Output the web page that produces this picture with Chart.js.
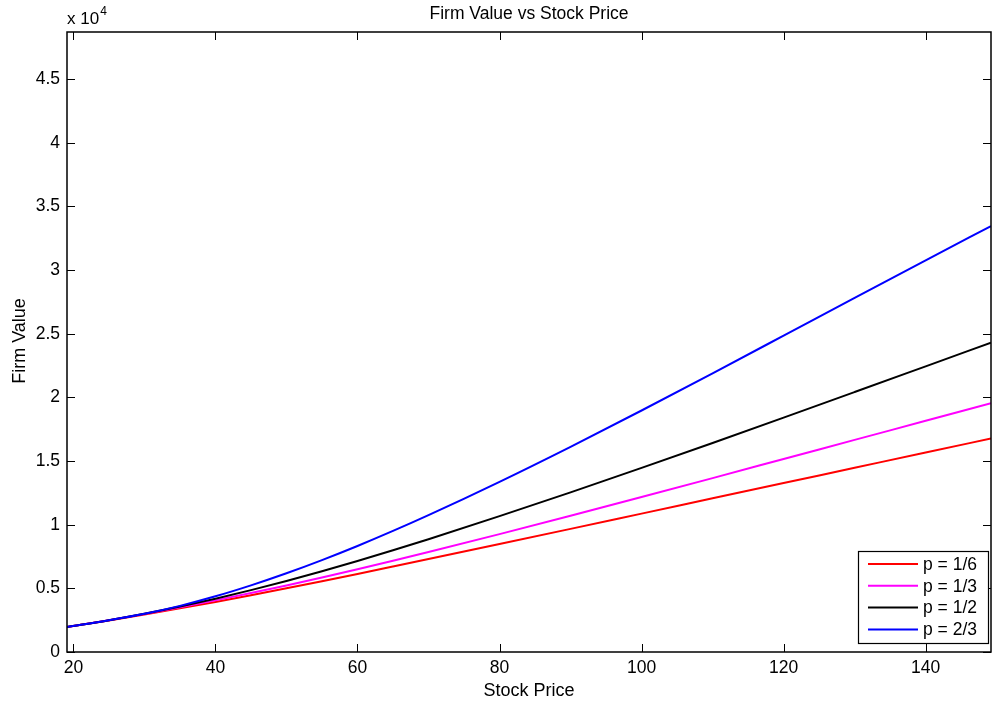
<!DOCTYPE html>
<html>
<head>
<meta charset="utf-8">
<script src="https://cdn.jsdelivr.net/npm/chart.js@4/dist/chart.umd.min.js"></script>
<style>
html,body{margin:0;padding:0;background:#fff;}
#wrap{width:992px;height:702px;position:relative;}
</style>
</head>
<body>
<div id="wrap"><canvas id="c" width="992" height="702"></canvas></div>
<script>
const stockPrice = [19.1,25,30,35,40,45,50,55,60,65,70,80,90,100,110,120,130,140,149.2];
const pOneSixth  = [1960,2480,2945,3430,3935,4460,5005,5565,6135,6715,7300,8480,9670,10870,12070,13270,14470,15670,16770];
const pOneThird  = [1960,2490,2980,3505,4055,4630,5230,5855,6500,7165,7850,9260,10700,12170,13660,15160,16660,18160,19540];
const pOneHalf   = [1960,2490,3000,3570,4190,4860,5580,6345,7150,7990,8860,10670,12540,14460,16420,18410,20420,22440,24300];
const pTwoThirds = [1960,2490,3000,3625,4375,5235,6185,7220,8330,9510,10750,13370,16120,18970,21890,24850,27820,30770,33460];
const seriesLabels = ['p = 1/6','p = 1/3','p = 1/2','p = 2/3'];
const seriesColors = ['#ff0000','#ff00ff','#000000','#0000ff'];
const xTicks = [20,40,60,80,100,120,140];
const yTicks = [0,5000,10000,15000,20000,25000,30000,35000,40000,45000];
const yTickLabels = ['0','0.5','1','1.5','2','2.5','3','3.5','4','4.5'];
const xRange = [19.1,149.2];
const yRange = [0,48700];

const FONT = '"Liberation Sans", Arial, Helvetica, sans-serif';
const allSeries = [pOneSixth,pOneThird,pOneHalf,pTwoThirds];

const datasets = allSeries.map((vals,i)=>({
  label: seriesLabels[i],
  data: stockPrice.map((x,j)=>({x:x,y:vals[j]})),
  borderColor: seriesColors[i],
  backgroundColor: seriesColors[i],
  borderWidth: 2,
  pointRadius: 0,
  fill: false,
  order: allSeries.length - 1 - i,
  cubicInterpolationMode: 'monotone'
}));

const decor = {
  id:'decor',
  afterDatasetsDraw(chart){
    const ctx = chart.ctx;
    const a = chart.chartArea;
    const xs = chart.scales.x, ys = chart.scales.y;
    ctx.save();
    ctx.strokeStyle = '#000';
    ctx.lineWidth = 1;
    const TL = 8;
    ctx.beginPath();
    xTicks.forEach(v=>{
      const px = Math.round(xs.getPixelForValue(v))+0.5;
      ctx.moveTo(px,a.bottom); ctx.lineTo(px,a.bottom-TL);
      ctx.moveTo(px,a.top); ctx.lineTo(px,a.top+TL);
    });
    yTicks.forEach(v=>{
      const py = Math.round(ys.getPixelForValue(v))+0.5;
      ctx.moveTo(a.left,py); ctx.lineTo(a.left+TL,py);
      ctx.moveTo(a.right,py); ctx.lineTo(a.right-TL,py);
    });
    ctx.stroke();
    ctx.lineWidth = 1.5;
    ctx.strokeRect(a.left, a.top, a.right-a.left, a.bottom-a.top);
    ctx.restore();
  },
  afterDraw(chart){
    const ctx = chart.ctx;
    const a = chart.chartArea;
    ctx.save();
    ctx.fillStyle = '#000';
    ctx.font = '17.5px ' + FONT;
    ctx.textAlign = 'center';
    ctx.textBaseline = 'alphabetic';
    ctx.fillText('Firm Value vs Stock Price', (a.left+a.right)/2, 18.5);
    ctx.font = '18px ' + FONT;
    ctx.fillText('Stock Price', (a.left+a.right)/2, 696);
    ctx.save();
    ctx.translate(25, 341);
    ctx.rotate(-Math.PI/2);
    ctx.fillText('Firm Value', 0, 0);
    ctx.restore();
    ctx.textAlign = 'left';
    ctx.font = '17px ' + FONT;
    ctx.fillText('x 10', 67, 24);
    const w = ctx.measureText('x 10').width;
    ctx.font = '12px ' + FONT;
    ctx.fillText('4', 67 + w + 1, 15);
    const lx = 858, ly = 551, lw = 130, lh = 92;
    ctx.fillStyle = '#fff';
    ctx.fillRect(lx, ly, lw, lh);
    ctx.strokeStyle = '#000';
    ctx.lineWidth = 1.2;
    ctx.strokeRect(lx+0.5, ly+0.5, lw, lh);
    ctx.font = '17.5px ' + FONT;
    ctx.textBaseline = 'middle';
    seriesLabels.forEach((lab,i)=>{
      const y = 564 + i*21.8;
      ctx.strokeStyle = seriesColors[i];
      ctx.lineWidth = 2;
      ctx.beginPath();
      ctx.moveTo(868, y); ctx.lineTo(918, y);
      ctx.stroke();
      ctx.fillStyle = '#000';
      ctx.fillText(lab, 923, y+1);
    });
    ctx.restore();
  }
};

new Chart(document.getElementById('c'), {
  type: 'line',
  data: { datasets },
  options: {
    responsive: false,
    animation: false,
    devicePixelRatio: 1,
    layout: { padding: { top: 32, right: 1, left: 0, bottom: 0 } },
    plugins: { legend: { display: false }, title: { display: false }, tooltip: { enabled: false } },
    scales: {
      x: {
        type: 'linear',
        min: xRange[0], max: xRange[1],
        grid: { display: false, drawTicks: false },
        border: { display: false },
        afterBuildTicks(s){ s.ticks = xTicks.map(v=>({value:v})); },
        afterFit(s){ s.height = 50; },
        ticks: {
          padding: 6,
          color: '#000',
          maxRotation: 0,
          autoSkip: false,
          font: { family: FONT, size: 17.5 },
          callback: (v)=>String(v)
        }
      },
      y: {
        type: 'linear',
        min: yRange[0], max: yRange[1],
        grid: { display: false, drawTicks: false },
        border: { display: false },
        afterBuildTicks(s){ s.ticks = yTicks.map(v=>({value:v})); },
        afterFit(s){ s.width = 67; },
        ticks: {
          padding: 7,
          color: '#000',
          autoSkip: false,
          font: { family: FONT, size: 17.5 },
          callback: (v)=>{ const i = yTicks.indexOf(v); return i>=0 ? yTickLabels[i] : ''; }
        }
      }
    }
  },
  plugins: [decor]
});
</script>
</body>
</html>
